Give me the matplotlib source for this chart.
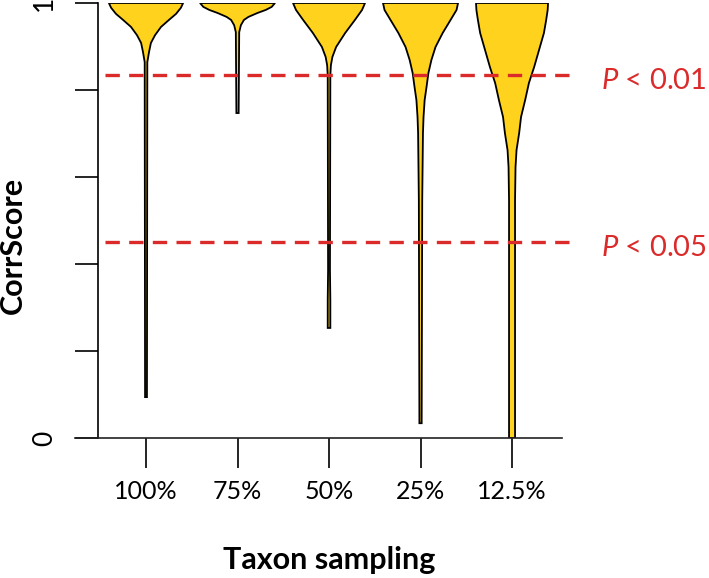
import matplotlib
matplotlib.use("Agg")
import matplotlib.pyplot as plt
import numpy as np

plt.rcParams['font.family'] = ['Lato', 'DejaVu Sans']
plt.rcParams['mathtext.fontset'] = 'custom'
plt.rcParams['mathtext.it'] = 'Lato:italic'
plt.rcParams['mathtext.rm'] = 'Lato'

# カテゴリ
groups = ["100%", "75%", "50%", "25%", "12.5%"]

# violin profiles: CorrScore value and relative density (half width, max = 1)
v100_y = [1.0, 0.989, 0.975, 0.961, 0.945, 0.926, 0.908, 0.887, 0.864, 0.094]
v100_d = [0.99, 0.93, 0.80, 0.61, 0.40, 0.24, 0.13, 0.08, 0.035, 0.025]
v75_y = [1.0, 0.991, 0.984, 0.977, 0.968, 0.961, 0.949, 0.933, 0.747]
v75_d = [1.0, 0.91, 0.75, 0.53, 0.29, 0.17, 0.09, 0.045, 0.03]
v50_y = [1.0, 0.984, 0.961, 0.931, 0.899, 0.876, 0.857, 0.834, 0.386, 0.317, 0.253]
v50_d = [0.96, 0.88, 0.69, 0.43, 0.19, 0.09, 0.05, 0.035, 0.025, 0.035, 0.035]
v25_y = [1.0, 0.984, 0.961, 0.931, 0.899, 0.869, 0.839, 0.807, 0.777, 0.738, 0.701, 0.547, 0.034]
v25_d = [1.0, 0.96, 0.80, 0.59, 0.40, 0.29, 0.21, 0.16, 0.11, 0.08, 0.065, 0.045, 0.03]
v12_y = [1.0, 0.984, 0.961, 0.931, 0.892, 0.853, 0.816, 0.777, 0.738, 0.701, 0.662, 0.623, 0.547, 0.0]
v12_d = [0.96, 0.95, 0.91, 0.85, 0.72, 0.59, 0.45, 0.35, 0.24, 0.19, 0.12, 0.093, 0.08, 0.08]

profiles = [(v100_y, v100_d), (v75_y, v75_d), (v50_y, v50_d), (v25_y, v25_d), (v12_y, v12_d)]

# 有意水準
thresholds = [0.834, 0.45]
p_labels = [r"$P$ < 0.01", r"$P$ < 0.05"]

yellow = "#FFD21E"
red = "#DA2A2A"

fig = plt.figure(figsize=(7.09, 5.78), dpi=100)
ax = fig.add_axes([75 / 709, 140 / 578, 487 / 709, 435 / 578])

pos = np.arange(1, len(groups) + 1)
half = 0.41
for p, (yv, dv) in zip(pos, profiles):
    yv = np.array(yv)
    dv = np.array(dv) * half
    xs = np.concatenate([p - dv, (p + dv)[::-1]])
    ys = np.concatenate([yv, yv[::-1]])
    ax.fill(xs, ys, facecolor=yellow, edgecolor="black", linewidth=1.3, zorder=2)

for t, lab in zip(thresholds, p_labels):
    ax.hlines(t, 0.55, 5.71, colors=red, linestyles=(0, (4.3, 2.8)), linewidth=2.4,
              clip_on=False, zorder=3)
    ax.annotate(lab, xy=(5.97, t), xytext=(0, -4), textcoords="offset points",
                va="center", ha="left", color=red, fontsize=21, annotation_clip=False)

ax.set_xlim(0.224, 5.546)
ax.set_ylim(0, 1)

for s in ["top", "right"]:
    ax.spines[s].set_visible(False)
ax.spines["left"].set_position(("data", 0.475))
ax.spines["left"].set_linewidth(1.2)
ax.spines["bottom"].set_linewidth(1.2)
ax.spines["bottom"].set_color("#222222")

ax.set_yticks([0, 0.2, 0.4, 0.6, 0.8, 1.0])
ax.set_yticklabels(["0", "", "", "", "", "1"], rotation=90, va="center")
ax.set_xticks(pos)
ax.set_xticklabels(groups)
ax.tick_params(axis="y", length=16.5, width=1.2, pad=13, labelsize=19)
ax.tick_params(axis="x", length=21.5, width=1.2, pad=9, labelsize=18)

fig.text(329 / 709, 1 - 560 / 578, "Taxon sampling", ha="center", va="center",
         fontsize=22, fontweight="bold")
fig.text(13 / 709, 1 - 245 / 578, "CorrScore", ha="center", va="center",
         rotation=90, fontsize=22, fontweight="bold")

fig.savefig("out.png", dpi=100)
